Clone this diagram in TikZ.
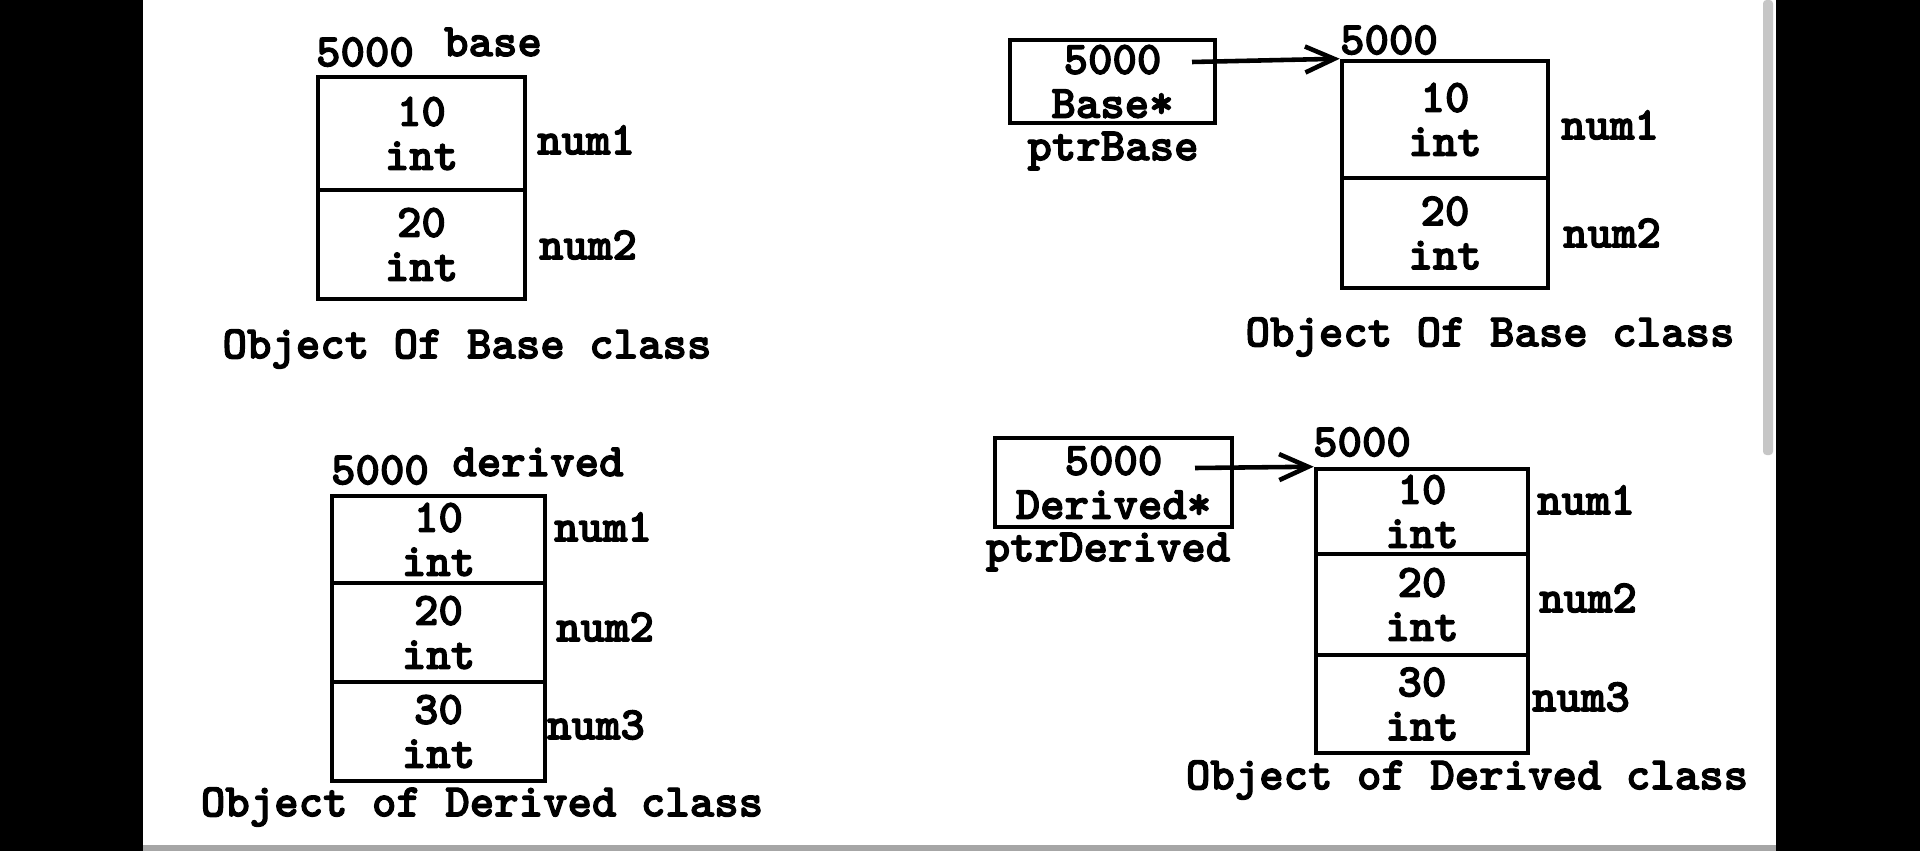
\documentclass[tikz,border=0pt]{standalone}
\usepackage{fontspec}
\usepackage{tikz}
\usetikzlibrary{arrows.meta}
\newfontfamily\memfamily{lmmonolt10-bold.otf}[FakeBold=2.5]
\newcommand{\memfont}{\memfamily\fontsize{26.5}{25}\selectfont}

\begin{document}
\begin{tikzpicture}[x=0.02cm, y=-0.02cm,
    cell/.style={draw, line width=2.6pt, inner sep=0pt, align=center, font=\memfont},
    lbl/.style={inner sep=0pt, font=\memfont},
    ptr/.style={line width=2.6pt, -{Straight Barb[length=0.58cm, width=0.52cm]}}]
    \useasboundingbox (0,0) rectangle (1920,851);

    % Screen frame
    \fill[white] (0,0) rectangle (1920,851);
    \fill[black] (0,0) rectangle (143,851);
    \fill[black] (1776,0) rectangle (1920,851);
    \fill[gray!70] (143,845) rectangle (1776,851);
    \fill[gray!45, rounded corners=2pt] (1763,0) rectangle (1773,455);

    % Object of base class (top left)
    \node[lbl] (bAddr) at (365,52) {5000};
    \node[lbl] (bName) at (493,42) {base};
    \node[cell, minimum width=4.14cm, minimum height=2.26cm] (b1) at (421.5,133.5) {10\\int};
    \node[cell, minimum width=4.14cm, minimum height=2.18cm] (b2) at (421.5,244.5) {20\\int};
    \node[lbl] (b1Name) at (586,140) {num1};
    \node[lbl] (b2Name) at (588,245) {num2};
    \node[lbl] (bTitle) at (467,349) {Object Of Base class};

    % Base pointer to base object (top right)
    \node[cell, minimum width=4.1cm, minimum height=1.66cm] (pb) at (1112.5,81.5) {5000\\Base*};
    \node[lbl] (pbName) at (1113,151) {ptrBase};
    \coordinate (pbOut) at (1192,62);
    \node[lbl] (pbAddr) at (1389,40) {5000};
    \node[cell, minimum width=4.12cm, minimum height=2.34cm] (pb1) at (1445,119.5) {10\\int};
    \node[cell, minimum width=4.12cm, minimum height=2.2cm] (pb2) at (1445,233) {20\\int};
    \node[lbl] (pb1Name) at (1610,125) {num1};
    \node[lbl] (pb2Name) at (1612,233) {num2};
    \node[lbl] (pbTitle) at (1490,337) {Object Of Base class};

    % Object of derived class (bottom left)
    \node[lbl] (dAddr) at (380,470) {5000};
    \node[lbl] (dName) at (538,462) {derived};
    \node[cell, minimum width=4.26cm, minimum height=1.74cm] (d1) at (438.5,539.5) {10\\int};
    \node[cell, minimum width=4.26cm, minimum height=1.98cm] (d2) at (438.5,632.5) {20\\int};
    \node[cell, minimum width=4.26cm, minimum height=1.98cm] (d3) at (438.5,731.5) {30\\int};
    \node[lbl] (d1Name) at (603,527) {num1};
    \node[lbl] (d2Name) at (605,627) {num2};
    \node[lbl] (d3Name) at (596,725) {num3};
    \node[lbl] (dTitle) at (482,807) {Object of Derived class};

    % Derived pointer to derived object (bottom right)
    \node[cell, minimum width=4.74cm, minimum height=1.78cm] (pd) at (1113.5,482.5) {5000\\Derived*};
    \node[lbl] (pdName) at (1108,552) {ptrDerived};
    \coordinate (pdOut) at (1195,468);
    \node[lbl] (pdAddr) at (1362,442) {5000};
    \node[cell, minimum width=4.24cm, minimum height=1.7cm] (pd1) at (1422,511.5) {10\\int};
    \node[cell, minimum width=4.24cm, minimum height=2.02cm] (pd2) at (1422,604.5) {20\\int};
    \node[cell, minimum width=4.24cm, minimum height=1.96cm] (pd3) at (1422,704) {30\\int};
    \node[lbl] (pd1Name) at (1586,500) {num1};
    \node[lbl] (pd2Name) at (1588,598) {num2};
    \node[lbl] (pd3Name) at (1581,697) {num3};
    \node[lbl] (pdTitle) at (1467,780) {Object of Derived class};

    % Pointers
    \draw[ptr] (pbOut) -- (pb1.north west);
    \draw[ptr] (pdOut) -- (pd1.north west);
\end{tikzpicture}
\end{document}
